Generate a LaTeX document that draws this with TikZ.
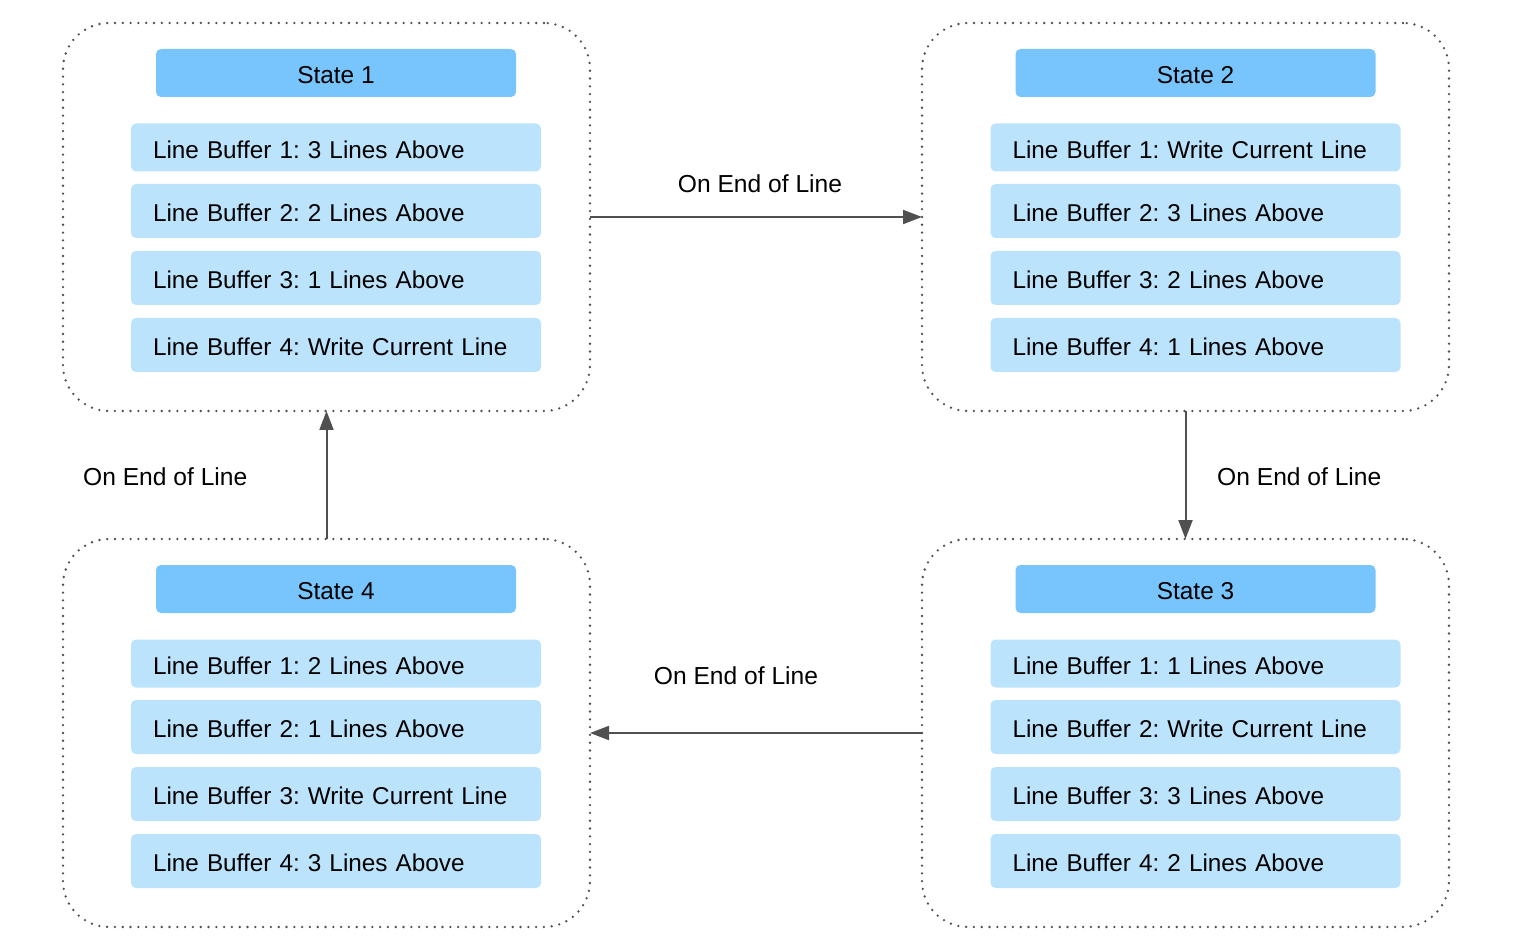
\documentclass[tikz,border=0pt]{standalone}
\usepackage{fontspec}
\setmainfont{Liberation Sans}
\usetikzlibrary{arrows.meta}
\definecolor{hdr}{HTML}{77C5FC}
\definecolor{buf}{HTML}{BBE3FC}
\definecolor{arrc}{HTML}{505050}
\definecolor{dotc}{HTML}{505050}
\frenchspacing
\begin{document}
\begin{tikzpicture}[x=1pt,y=1pt,
  txt/.style={text height=21.5pt,text depth=0pt},
  container/.style={draw=dotc,line width=2.6pt,dash pattern=on 0pt off 7.8pt,line cap=round,rounded corners=46pt,minimum width=527pt,minimum height=388pt,outer sep=0pt,inner sep=0pt},
  header/.style={txt,fill=hdr,rounded corners=5pt,minimum width=360pt,minimum height=48pt,outer sep=0pt,inner sep=0pt,font=\fontsize{24.4}{28}\selectfont},
  bufbox/.style={txt,fill=buf,rounded corners=5pt,text width=366pt,inner xsep=22pt,inner ysep=0pt,align=left,outer sep=0pt,font=\fontsize{24.3}{28}\selectfont},
  lbl/.style={txt,font=\fontsize{24.6}{28}\selectfont,inner sep=0pt},
  arr/.style={draw=arrc,line width=2pt,-{Triangle[length=19pt,width=14pt]}}
]
\useasboundingbox (0,0) rectangle (1513,-949);
% containers
\node[container] (c1) at (326.5,-217) {};
\node[container] (c2) at (1185.5,-217) {};
\node[container] (c3) at (1185.5,-733) {};
\node[container] (c4) at (326.5,-733) {};
% State 1
\node[header] (h1) at (336,-73) {State 1};
\node[bufbox,minimum height=48pt] (b11) at (336,-147.5) {Line Buffer 1: 3 Lines Above};
\node[bufbox,minimum height=54pt] (b12) at (336,-211) {Line Buffer 2: 2 Lines Above};
\node[bufbox,minimum height=54pt] (b13) at (336,-278) {Line Buffer 3: 1 Lines Above};
\node[bufbox,minimum height=54pt] (b14) at (336,-345) {Line Buffer 4: Write Current Line};
% State 2
\node[header] (h2) at (1195.5,-73) {State 2};
\node[bufbox,minimum height=48pt] (b21) at (1195.5,-147.5) {Line Buffer 1: Write Current Line};
\node[bufbox,minimum height=54pt] (b22) at (1195.5,-211) {Line Buffer 2: 3 Lines Above};
\node[bufbox,minimum height=54pt] (b23) at (1195.5,-278) {Line Buffer 3: 2 Lines Above};
\node[bufbox,minimum height=54pt] (b24) at (1195.5,-345) {Line Buffer 4: 1 Lines Above};
% State 3
\node[header] (h3) at (1195.5,-589) {State 3};
\node[bufbox,minimum height=48pt] (b31) at (1195.5,-663.5) {Line Buffer 1: 1 Lines Above};
\node[bufbox,minimum height=54pt] (b32) at (1195.5,-727) {Line Buffer 2: Write Current Line};
\node[bufbox,minimum height=54pt] (b33) at (1195.5,-794) {Line Buffer 3: 3 Lines Above};
\node[bufbox,minimum height=54pt] (b34) at (1195.5,-861) {Line Buffer 4: 2 Lines Above};
% State 4
\node[header] (h4) at (336,-589) {State 4};
\node[bufbox,minimum height=48pt] (b41) at (336,-663.5) {Line Buffer 1: 2 Lines Above};
\node[bufbox,minimum height=54pt] (b42) at (336,-727) {Line Buffer 2: 1 Lines Above};
\node[bufbox,minimum height=54pt] (b43) at (336,-794) {Line Buffer 3: Write Current Line};
\node[bufbox,minimum height=54pt] (b44) at (336,-861) {Line Buffer 4: 3 Lines Above};
% arrows
\draw[arr] (c1.east) -- (c2.west);
\draw[arr] (c2.south) -- (c3.north);
\draw[arr] (c3.west) -- (c4.east);
\draw[arr] (c4.north) -- (c1.south);
% labels
\node[lbl] (l12) at (760,-182) {On End of Line};
\node[lbl,anchor=west] (l23) at (1217,-475) {On End of Line};
\node[lbl] (l34) at (736,-674) {On End of Line};
\node[lbl,anchor=west] (l41) at (83,-475) {On End of Line};
\end{tikzpicture}
\end{document}
